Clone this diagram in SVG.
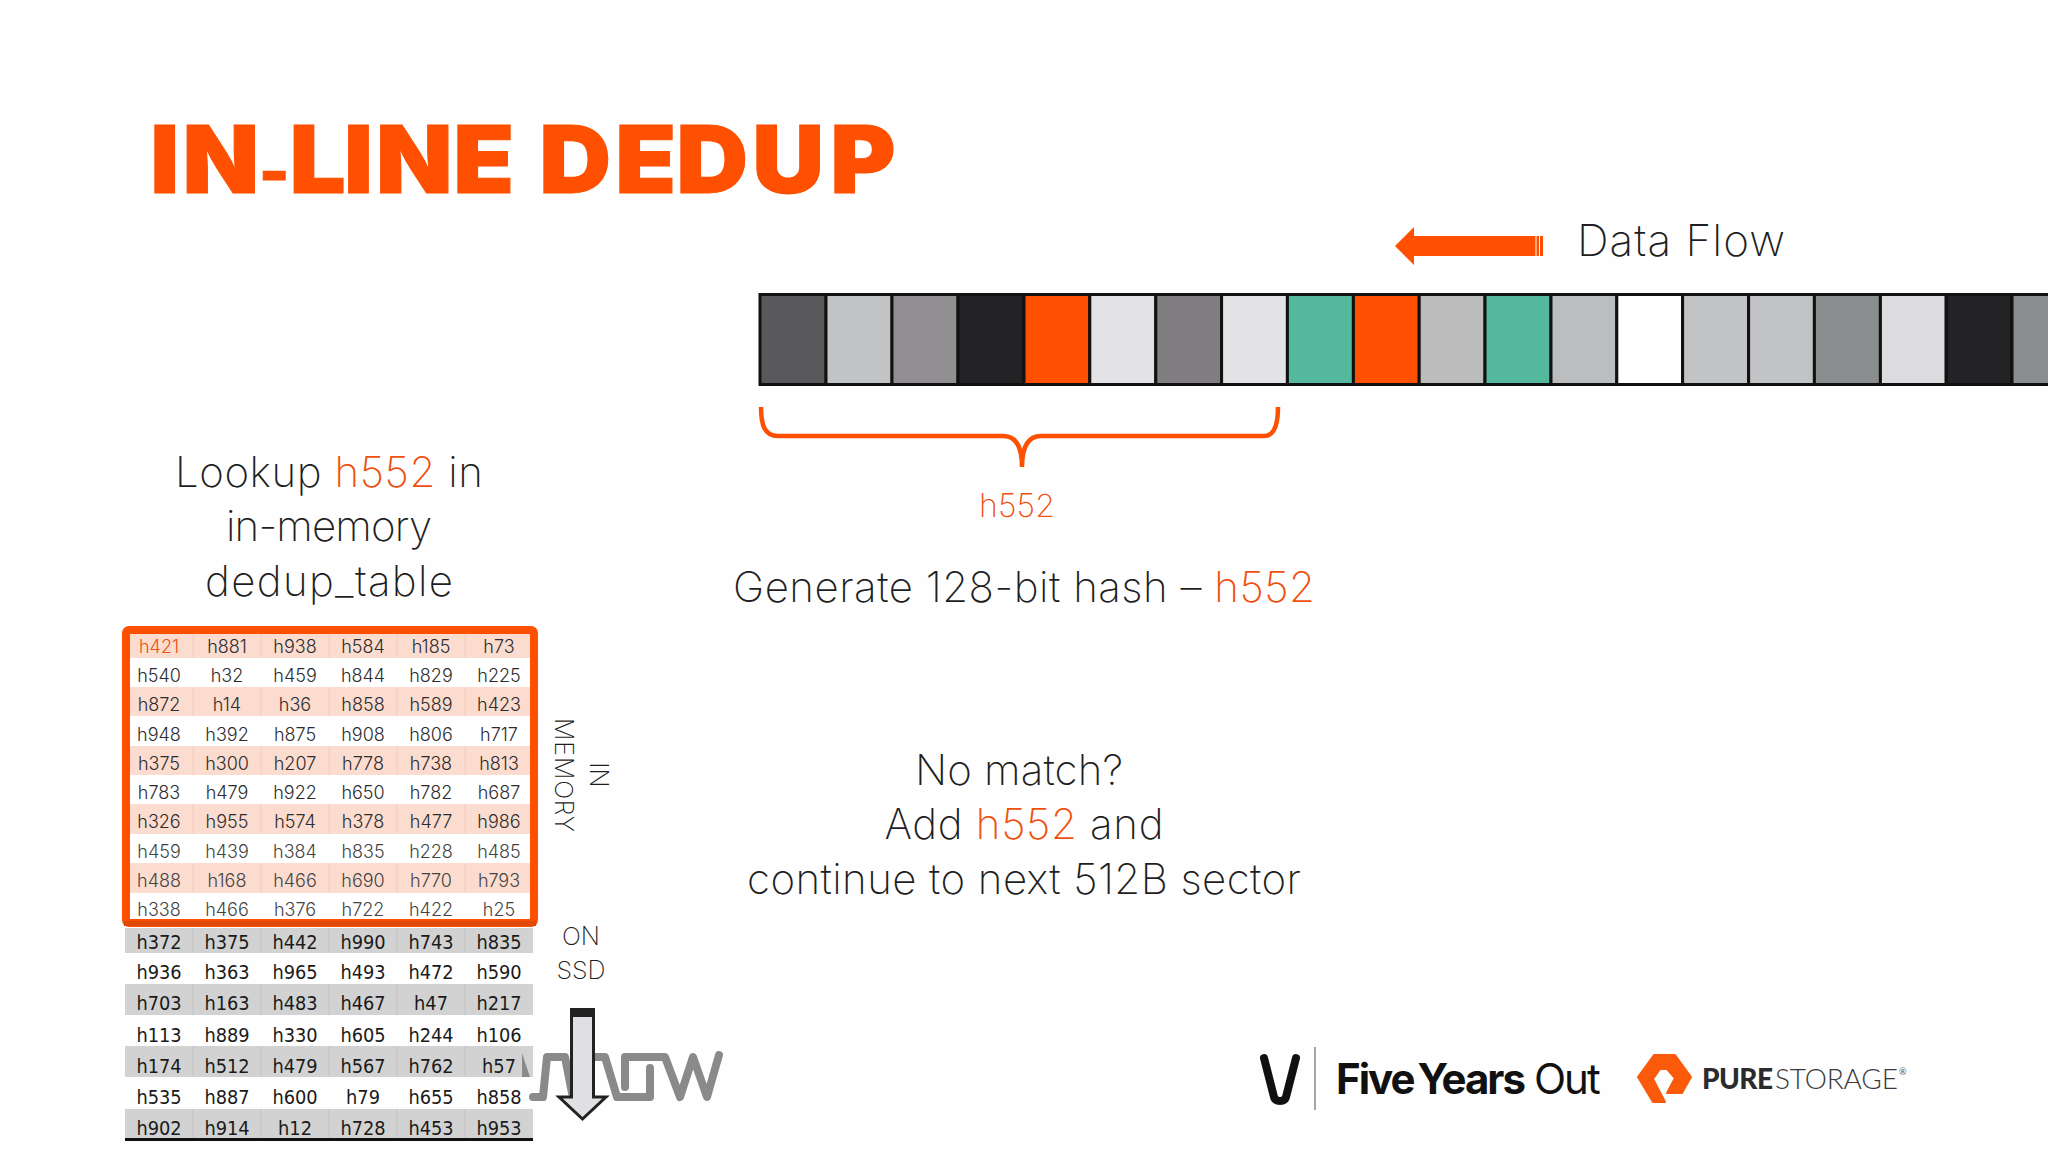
<svg xmlns="http://www.w3.org/2000/svg" width="2048" height="1152" viewBox="0 0 2048 1152">
<style>
text{font-family:"Inter","Liberation Sans",sans-serif;font-weight:200;fill:#1e1e22}
.o{fill:#f0500f}
.title{font-family:"Inter","Liberation Sans",sans-serif;font-weight:900;font-size:93px;fill:#fe5000;stroke:#fe5000;stroke-width:1}
.big{font-size:42px;text-anchor:middle}
.lab{font-size:25px;text-anchor:middle}
.m text{font-size:18px;text-anchor:middle;font-weight:300;fill:#2c2c2e}
.s text{font-family:"DejaVu Sans","Liberation Sans",sans-serif;font-stretch:condensed;font-size:19.800px;text-anchor:middle;font-weight:400;fill:#1a1a1a}
.cell{stroke:#111;stroke-width:3}
.pink{fill:#fbdccf}
.grey{fill:#d2d2d2}
.sepm{stroke:#f4cdbd;stroke-width:1}
.seps{stroke:#c2c2c2;stroke-width:1}
</style>
<rect width="2048" height="1152" fill="#fefefe"/>
<g id="title"><text class="title" transform="scale(1.07 1)" y="193"><tspan x="140.500 170.500">IN</tspan><tspan x="242" style="font-size:60px">-</tspan><tspan x="270.500 321.500 351.500 423.500">LINE</tspan><tspan x="504"> </tspan><tspan x="504 575 632 703 776">DEDUP</tspan></text></g>
<g id="data-flow">
<path d="M1395 246L1414 227V236H1543V256H1414V265Z" fill="#fe5000"/>
<path d="M1536 236V256M1539.500 236V256" stroke="#fff" stroke-width="1"/>
<text x="1577" y="256" style="font-size:44px" textLength="208">Data Flow</text>
</g>
<g id="strip">
<rect class="cell" x="760" y="294.500" width="66" height="90" fill="#59585b"/>
<rect class="cell" x="826" y="294.500" width="66" height="90" fill="#c2c3c5"/>
<rect class="cell" x="892" y="294.500" width="66" height="90" fill="#918f92"/>
<rect class="cell" x="958" y="294.500" width="66" height="90" fill="#232225"/>
<rect class="cell" x="1024" y="294.500" width="65.800" height="90" fill="#fe5000"/>
<rect class="cell" x="1089.800" y="294.500" width="66" height="90" fill="#e3e2e5"/>
<rect class="cell" x="1155.800" y="294.500" width="65.800" height="90" fill="#807e81"/>
<rect class="cell" x="1221.600" y="294.500" width="65.800" height="90" fill="#e3e2e5"/>
<rect class="cell" x="1287.400" y="294.500" width="66" height="90" fill="#53b89c"/>
<rect class="cell" x="1353.400" y="294.500" width="65.800" height="90" fill="#fe5000"/>
<rect class="cell" x="1419.200" y="294.500" width="65.800" height="90" fill="#bcbcbc"/>
<rect class="cell" x="1485" y="294.500" width="66" height="90" fill="#53b89c"/>
<rect class="cell" x="1551" y="294.500" width="65.800" height="90" fill="#bcbdbe"/>
<rect class="cell" x="1616.800" y="294.500" width="65.800" height="90" fill="#ffffff"/>
<rect class="cell" x="1682.600" y="294.500" width="66" height="90" fill="#c2c3c5"/>
<rect class="cell" x="1748.600" y="294.500" width="65.800" height="90" fill="#c2c3c5"/>
<rect class="cell" x="1814.400" y="294.500" width="66" height="90" fill="#8b8e8e"/>
<rect class="cell" x="1880.400" y="294.500" width="65.800" height="90" fill="#dcdbde"/>
<rect class="cell" x="1946.200" y="294.500" width="65.800" height="90" fill="#232225"/>
<rect class="cell" x="2012" y="294.500" width="66" height="90" fill="#8b8e8e"/>
</g>
<g id="connectors">
<path d="M761 407C761 426 765 436 778 436H1003C1015 436 1022 446 1022 467C1022 446 1029 436 1041 436H1264C1274 436 1278 426 1278 407" fill="none" stroke="#fe5000" stroke-width="4.500"/>
</g>
<g id="hash-label"><text x="1017" y="517" style="font-size:32px;text-anchor:middle" class="o" textLength="76">h552</text></g>
<g id="generate"><text class="big" x="1024" y="602" textLength="582">Generate 128-bit hash – <tspan class="o">h552</tspan></text></g>
<g id="lookup">
<text class="big" x="329" y="487" textLength="308">Lookup <tspan class="o">h552</tspan> in</text>
<text class="big" x="329" y="541" textLength="206">in-memory</text>
<text class="big" x="329" y="596" textLength="248">dedup_table</text>
</g>
<g id="no-match">
<text class="big" x="1019" y="785" textLength="208">No match?</text>
<text class="big" x="1024" y="839" textLength="279">Add <tspan class="o">h552</tspan> and</text>
<text class="big" x="1024" y="894" textLength="554">continue to next 512B sector</text>
</g>
<g id="ssd-table" class="s">
<rect class="grey" x="125" y="928" width="408" height="25"/>
<rect class="grey" x="125" y="984" width="408" height="31"/>
<rect class="grey" x="125" y="1046" width="408" height="31"/>
<rect class="grey" x="125" y="1109" width="408" height="29"/>
<rect x="125" y="1138" width="408" height="3" fill="#111"/>
<path class="seps" d="M193 928V953M261 928V953M329 928V953M397 928V953M465 928V953M193 984V1015M261 984V1015M329 984V1015M397 984V1015M465 984V1015M193 1046V1077M261 1046V1077M329 1046V1077M397 1046V1077M465 1046V1077M193 1109V1138M261 1109V1138M329 1109V1138M397 1109V1138M465 1109V1138"/>
<text x="159" y="949">h372</text><text x="227" y="949">h375</text><text x="295" y="949">h442</text><text x="363" y="949">h990</text><text x="431" y="949">h743</text><text x="499" y="949">h835</text>
<text x="159" y="979">h936</text><text x="227" y="979">h363</text><text x="295" y="979">h965</text><text x="363" y="979">h493</text><text x="431" y="979">h472</text><text x="499" y="979">h590</text>
<text x="159" y="1010">h703</text><text x="227" y="1010">h163</text><text x="295" y="1010">h483</text><text x="363" y="1010">h467</text><text x="431" y="1010">h47</text><text x="499" y="1010">h217</text>
<text x="159" y="1042">h113</text><text x="227" y="1042">h889</text><text x="295" y="1042">h330</text><text x="363" y="1042">h605</text><text x="431" y="1042">h244</text><text x="499" y="1042">h106</text>
<text x="159" y="1073">h174</text><text x="227" y="1073">h512</text><text x="295" y="1073">h479</text><text x="363" y="1073">h567</text><text x="431" y="1073">h762</text><text x="499" y="1073">h57</text>
<text x="159" y="1104">h535</text><text x="227" y="1104">h887</text><text x="295" y="1104">h600</text><text x="363" y="1104">h79</text><text x="431" y="1104">h655</text><text x="499" y="1104">h858</text>
<text x="159" y="1135">h902</text><text x="227" y="1135">h914</text><text x="295" y="1135">h12</text><text x="363" y="1135">h728</text><text x="431" y="1135">h453</text><text x="499" y="1135">h953</text>
</g>
<g id="memory-table" class="m">
<rect x="126" y="630" width="408" height="293" fill="#fff"/>
<rect class="pink" x="130" y="634" width="400" height="24"/>
<rect class="pink" x="130" y="687" width="400" height="29"/>
<rect class="pink" x="130" y="746" width="400" height="29"/>
<rect class="pink" x="130" y="804" width="400" height="30"/>
<rect class="pink" x="130" y="863" width="400" height="30"/>
<path class="sepm" d="M193 634V658M261 634V658M329 634V658M397 634V658M465 634V658M193 687V716M261 687V716M329 687V716M397 687V716M465 687V716M193 746V775M261 746V775M329 746V775M397 746V775M465 746V775M193 804V834M261 804V834M329 804V834M397 804V834M465 804V834M193 863V893M261 863V893M329 863V893M397 863V893M465 863V893"/>
<text x="159" y="653" style="fill:#f0500f">h421</text><text x="227" y="653">h881</text><text x="295" y="653">h938</text><text x="363" y="653">h584</text><text x="431" y="653">h185</text><text x="499" y="653">h73</text>
<text x="159" y="681.500">h540</text><text x="227" y="681.500">h32</text><text x="295" y="681.500">h459</text><text x="363" y="681.500">h844</text><text x="431" y="681.500">h829</text><text x="499" y="681.500">h225</text>
<text x="159" y="711">h872</text><text x="227" y="711">h14</text><text x="295" y="711">h36</text><text x="363" y="711">h858</text><text x="431" y="711">h589</text><text x="499" y="711">h423</text>
<text x="159" y="740.500">h948</text><text x="227" y="740.500">h392</text><text x="295" y="740.500">h875</text><text x="363" y="740.500">h908</text><text x="431" y="740.500">h806</text><text x="499" y="740.500">h717</text>
<text x="159" y="769.500">h375</text><text x="227" y="769.500">h300</text><text x="295" y="769.500">h207</text><text x="363" y="769.500">h778</text><text x="431" y="769.500">h738</text><text x="499" y="769.500">h813</text>
<text x="159" y="799">h783</text><text x="227" y="799">h479</text><text x="295" y="799">h922</text><text x="363" y="799">h650</text><text x="431" y="799">h782</text><text x="499" y="799">h687</text>
<text x="159" y="828">h326</text><text x="227" y="828">h955</text><text x="295" y="828">h574</text><text x="363" y="828">h378</text><text x="431" y="828">h477</text><text x="499" y="828">h986</text>
<text x="159" y="858" style="fill:#444">h459</text><text x="227" y="858" style="fill:#444">h439</text><text x="295" y="858" style="fill:#444">h384</text><text x="363" y="858" style="fill:#444">h835</text><text x="431" y="858" style="fill:#444">h228</text><text x="499" y="858" style="fill:#444">h485</text>
<text x="159" y="887" style="fill:#444">h488</text><text x="227" y="887" style="fill:#444">h168</text><text x="295" y="887" style="fill:#444">h466</text><text x="363" y="887" style="fill:#444">h690</text><text x="431" y="887" style="fill:#444">h770</text><text x="499" y="887" style="fill:#444">h793</text>
<text x="159" y="916" style="fill:#444">h338</text><text x="227" y="916" style="fill:#444">h466</text><text x="295" y="916" style="fill:#444">h376</text><text x="363" y="916" style="fill:#444">h722</text><text x="431" y="916" style="fill:#444">h422</text><text x="499" y="916" style="fill:#444">h25</text>
<rect x="126" y="630" width="408" height="293" rx="3" fill="none" stroke="#fe5000" stroke-width="8"/>
<path d="M124 923.500H536" stroke="#e04a08" stroke-width="5"/>
</g>
<g id="memory-label">
<text class="lab" transform="translate(555 775) rotate(90)" textLength="114">MEMORY</text>
<text class="lab" transform="translate(590 775) rotate(90)">IN</text>
</g>
<g id="ssd-label">
<text class="lab" x="581" y="945">ON</text>
<text class="lab" x="581" y="979">SSD</text>
</g>
<g id="arrow-logo">
<path d="M522 1053L530 1077H522Z" fill="#8a8a8a"/>
<path d="M533 1097H543L547 1057H565L572 1093M593 1057H605L617 1097H650V1068M625 1087V1057H665L680 1097L693 1057L707 1097L719 1055" fill="none" stroke="#8a8a8a" stroke-width="8" stroke-linecap="round" stroke-linejoin="round"/>
</g>
<g id="down-arrow">
<path d="M571.500 1010H593.500V1097H606L582.500 1119L559 1097H571.500Z" fill="#e0dfe2" stroke="#222" stroke-width="3"/>
<rect x="570" y="1008" width="25" height="9" fill="#222"/>
</g>
<g id="v-logo">
<path d="M1264 1058L1274 1097Q1275 1101 1280 1101Q1285 1101 1286 1097L1296 1058" fill="none" stroke="#111" stroke-width="8" stroke-linecap="round" stroke-linejoin="round"/>
<path d="M1315 1047V1110" stroke="#888" stroke-width="1.500"/>
<text y="1094" style="font-family:'Inter','Liberation Sans',sans-serif;font-size:42px;letter-spacing:-2px;word-spacing:-4px;fill:#111"><tspan x="1336" style="font-weight:700">Five Years</tspan> <tspan x="1534" style="font-weight:400">Out</tspan></text>
</g>
<g id="purestorage-logo">
<path d="M1654 1055H1675L1691 1077L1682 1093H1667L1675 1078L1667 1069H1660L1653 1079L1665 1102H1653L1638 1077Z" fill="#fa5a0a" stroke="#fa5a0a" stroke-width="2" stroke-linejoin="round"/>
<text x="1702" y="1089" style="font-family:'Lato','Liberation Sans',sans-serif;font-size:28px;font-weight:900;fill:#2b2b2e" textLength="71">PURE</text>
<text x="1775" y="1089" style="font-family:'Lato','Liberation Sans',sans-serif;font-size:28px;font-weight:300;fill:#3a3a3d" textLength="123">STORAGE</text>
<text x="1899" y="1075" style="font-family:'Lato','Liberation Sans',sans-serif;font-size:9px;font-weight:400;fill:#555">®</text>
</g>
</svg>
